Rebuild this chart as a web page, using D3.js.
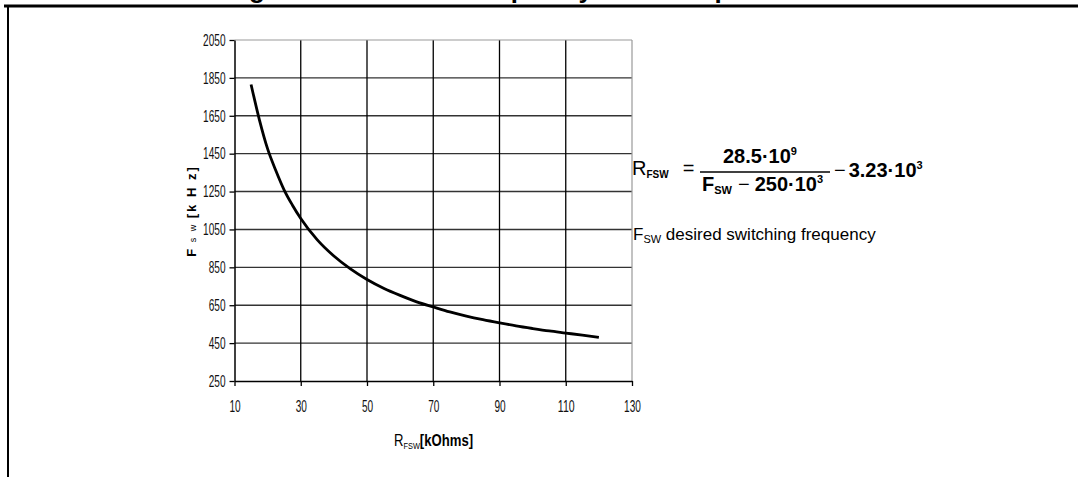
<!DOCTYPE html>
<html>
<head>
<meta charset="utf-8">
<script src="https://cdn.jsdelivr.net/npm/d3@7"></script>
<style>
  body { margin: 0; background: #fff; }
  svg { display: block; }
</style>
</head>
<body>
<div id="chart"></div>
<script>
// Giá trị (R_FSW [kOhm] -> F_SW [kHz])
const rValues = [15, 17.5, 20, 22.5, 25, 27.5, 30, 35, 40, 45, 50, 55, 60, 65, 70, 75, 80, 85, 90, 95, 100, 105, 110, 115, 120];
const fValues = [1815, 1630, 1475, 1360, 1258, 1178, 1108, 995, 910, 842, 786, 740, 702, 668, 641, 615, 593, 574, 557, 541, 527, 514, 503, 492, 480];
const xTicks = [10, 30, 50, 70, 90, 110, 130];
const yTicks = [250, 450, 650, 850, 1050, 1250, 1450, 1650, 1850, 2050];

const W = 1082, H = 477;
const plot = { left: 234.5, right: 632, top: 40, bottom: 381 };

const svg = d3.select("#chart").append("svg")
    .attr("width", W)
    .attr("height", H);

// Khung trang (tiêu đề bị cắt phía trên)
svg.append("text")
    .attr("x", 226)
    .attr("y", -2.5)
    .style("font-family", "Liberation Sans, Arial, sans-serif")
    .style("font-weight", "bold")
    .style("font-size", "26px")
    .text("Figure 6. Oscillator frequency versus input resistor");

svg.append("line")
    .attr("x1", 4).attr("x2", 1078)
    .attr("y1", 6).attr("y2", 6)
    .attr("stroke", "#000").attr("stroke-width", 3);
svg.append("line")
    .attr("x1", 8).attr("x2", 8)
    .attr("y1", 5).attr("y2", H)
    .attr("stroke", "#000").attr("stroke-width", 2);

// Thang đo
const x = d3.scaleLinear().domain([10, 130]).range([plot.left, plot.right]);
const y = d3.scaleLinear().domain([250, 2050]).range([plot.bottom, plot.top]);

// Lưới
svg.append("g").selectAll("line")
    .data(yTicks.slice(1, -1))
    .enter().append("line")
    .attr("x1", plot.left).attr("x2", plot.right)
    .attr("y1", d => y(d)).attr("y2", d => y(d))
    .attr("stroke", "#333").attr("stroke-width", 1.4);

svg.append("g").selectAll("line")
    .data(xTicks.slice(1, -1))
    .enter().append("line")
    .attr("x1", d => x(d)).attr("x2", d => x(d))
    .attr("y1", plot.top).attr("y2", plot.bottom)
    .attr("stroke", "#000").attr("stroke-width", 1.3);

// Viền trên và phải màu xám
svg.append("line")
    .attr("x1", plot.left).attr("x2", plot.right)
    .attr("y1", y(2050)).attr("y2", y(2050))
    .attr("stroke", "#999").attr("stroke-width", 1.2);
svg.append("line")
    .attr("x1", x(130)).attr("x2", x(130))
    .attr("y1", plot.top).attr("y2", plot.bottom)
    .attr("stroke", "#999").attr("stroke-width", 1.2);

// Trục
const tickFont = "'Liberation Sans Narrow', 'Arial Narrow', 'Liberation Sans', sans-serif";

const xAxis = svg.append("g")
    .attr("transform", `translate(0,${plot.bottom})`)
    .call(d3.axisBottom(x).tickValues(xTicks).tickFormat(d => String(d))
        .tickSize(5).tickSizeOuter(0).tickPadding(14));
const yAxis = svg.append("g")
    .attr("transform", `translate(${plot.left},0)`)
    .call(d3.axisLeft(y).tickValues(yTicks).tickFormat(d => String(d))
        .tickSize(5).tickSizeOuter(0).tickPadding(4));

[xAxis, yAxis].forEach(a => {
    a.select(".domain").attr("stroke", "#000").attr("stroke-width", 1.5);
    a.selectAll(".tick line").attr("stroke", "#000").attr("stroke-width", 1.3);
    a.selectAll(".tick text")
        .style("font-family", tickFont)
        .style("font-size", "16.5px")
        .attr("fill", "#111")
        .attr("textLength", d => String(d).length * 5.6)
        .attr("lengthAdjust", "spacingAndGlyphs");
});

// Đường cong
const pts = rValues.map((r, i) => [r, fValues[i]]);
svg.append("path")
    .datum(pts)
    .attr("fill", "none")
    .attr("stroke", "#000")
    .attr("stroke-width", 2.8)
    .attr("d", d3.line().x(d => x(d[0])).y(d => y(d[1])).curve(d3.curveMonotoneX));

// Nhãn trục
const xl = svg.append("g")
    .attr("transform", "translate(394,446) scale(0.82,1)")
    .append("text")
    .style("font-family", tickFont)
    .style("font-weight", "bold")
    .style("font-size", "16px");
xl.append("tspan").style("font-weight", "normal").text("R");
xl.append("tspan").attr("dy", 3).style("font-size", "9px").style("font-weight", "normal").text("FSW");
xl.append("tspan").attr("dy", -3).text("[kOhms]");

const yl = svg.append("text")
    .attr("transform", "translate(196,211) rotate(-90)")
    .attr("text-anchor", "middle")
    .style("font-family", "'Liberation Sans', Arial, sans-serif")
    .style("font-weight", "bold")
    .style("font-size", "13px")
    .style("letter-spacing", "2px");
yl.append("tspan").text("F");
yl.append("tspan").style("font-size", "9px").style("font-weight", "normal").text(" s w ");
yl.append("tspan").text("[k H z]");

// Công thức
const mathFont = "'Liberation Sans', Arial, sans-serif";
const fg = svg.append("g").style("font-family", mathFont).attr("fill", "#000");

const r1 = fg.append("text").attr("x", 632).attr("y", 175).style("font-size", "20px");
r1.append("tspan").text("R");
r1.append("tspan").attr("dy", 3).style("font-size", "10px").style("font-weight", "bold").text("FSW");
r1.append("tspan").attr("dy", -3).attr("dx", 14).text("=");

fg.append("line")
    .attr("x1", 700).attr("x2", 830)
    .attr("y1", 172).attr("y2", 172)
    .attr("stroke", "#000").attr("stroke-width", 1.3);

const num = fg.append("text").attr("x", 723).attr("y", 163)
    .style("font-size", "20px").style("font-weight", "bold");
num.append("tspan").text("28.5·10");
num.append("tspan").attr("dy", -8).style("font-size", "11px").text("9");

const den = fg.append("text").attr("x", 702).attr("y", 191)
    .style("font-size", "20px").style("font-weight", "bold");
den.append("tspan").text("F");
den.append("tspan").attr("dy", 3).style("font-size", "11px").text("SW");
den.append("tspan").attr("dy", -3).attr("dx", 6).style("font-weight", "normal").text("−");
den.append("tspan").attr("dx", 5).text("250·10");
den.append("tspan").attr("dy", -8).style("font-size", "11px").text("3");

const tail = fg.append("text").attr("x", 834).attr("y", 177)
    .style("font-size", "20px").style("font-weight", "bold");
tail.append("tspan").style("font-weight", "normal").text("−");
tail.append("tspan").attr("dx", 3).text("3.23·10");
tail.append("tspan").attr("dy", -8).style("font-size", "11px").text("3");

const desc = fg.append("text").attr("x", 633).attr("y", 240).style("font-size", "17px");
desc.append("tspan").text("F");
desc.append("tspan").attr("dy", 3).style("font-size", "11px").text("SW");
desc.append("tspan").attr("dy", -3).text(" desired switching frequency");
</script>
</body>
</html>
